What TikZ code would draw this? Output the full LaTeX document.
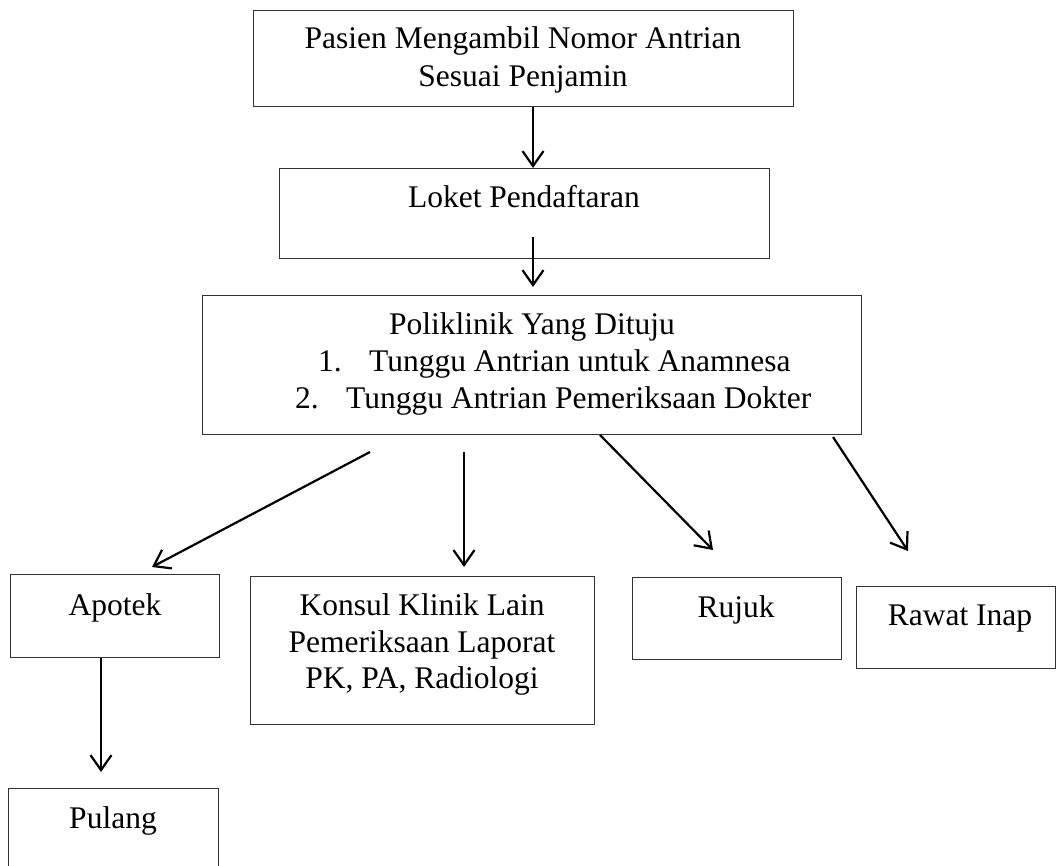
\documentclass[tikz,border=0pt]{standalone}
\usepackage{fontspec}
\setmainfont{Liberation Serif}
\usetikzlibrary{arrows.meta,calc}
\begin{document}
\begin{tikzpicture}[x=1pt,y=-1pt,
  box/.style={draw=black!80,line width=1.3pt,rectangle,inner sep=0pt,anchor=north west},
  txt/.style={inner sep=0pt,anchor=base,font=\fontsize{31.5}{37}\selectfont},
  txl/.style={inner sep=0pt,anchor=base west,font=\fontsize{31.5}{37}\selectfont},
  arr/.style={line width=2.2pt,-{Straight Barb[length=15pt,width=21pt,line width=2.2pt]}}]
\clip (0,0) rectangle (1060,866);
\fill[white] (0,0) rectangle (1060,866);
% boxes
\node[box,minimum width=540pt,minimum height=96pt] (b1) at (253,10) {};
\node[box,minimum width=490pt,minimum height=90pt] (b2) at (279,168) {};
\node[box,minimum width=659pt,minimum height=139pt] (b3) at (202,295) {};
\node[box,minimum width=209pt,minimum height=83pt] (apotek) at (10,574) {};
\node[box,minimum width=344pt,minimum height=148pt] (konsul) at (250,576) {};
\node[box,minimum width=209pt,minimum height=82pt] (rujuk) at (632,577) {};
\node[box,minimum width=199pt,minimum height=82pt] (rawat) at (856,586) {};
\node[box,minimum width=210pt,minimum height=120pt] (pulang) at (8,788) {};
% texts
\node[txt] (t1a) at (523,49) {Pasien Mengambil Nomor Antrian};
\node[txt] (t1b) at (523,87) {Sesuai Penjamin};
\node[txt] (t2) at (524,208) {Loket Pendaftaran};
\node[txt] (t3a) at (532,335) {Poliklinik Yang Dituju};
\node[txl] (n1) at (318,372) {1.};
\node[txl] (t3b) at (369,372) {Tunggu Antrian untuk Anamnesa};
\node[txl] (n2) at (295,408) {2.};
\node[txl] (t3c) at (346,408) {Tunggu Antrian Pemeriksaan Dokter};
\node[txt] (ta) at (115,615) {Apotek};
\node[txt] (tk1) at (422,615) {Konsul Klinik Lain};
\node[txt] (tk2) at (422,652) {Pemeriksaan Laporat};
\node[txt] (tk3) at (422,688) {PK, PA, Radiologi};
\node[txt] (tr) at (736,617) {Rujuk};
\node[txt] (tw) at (960,625) {Rawat Inap};
\node[txt] (tp) at (113,828) {Pulang};
% connector end points
\coordinate (x1) at (533,0);
\coordinate (a2s) at (533,237);
\coordinate (a2e) at (533,287);
\coordinate (a3s) at (370,452);
\coordinate (a3e) at (152,567);
\coordinate (a4s) at (464,452);
\coordinate (a4e) at (464,567);
\coordinate (a5s) at (600,435);
\coordinate (a5e) at (713,550);
\coordinate (a6s) at (833,437);
\coordinate (a6e) at (908,551);
\coordinate (x7) at (101,0);
\coordinate (a7e) at (101,772);
% connectors
\draw[arr] (b1.south -| x1) -- (b2.north -| x1);
\draw[arr] (a2s) -- (a2e);
\draw[arr] (a3s) -- (a3e);
\draw[arr] (a4s) -- (a4e);
\draw[arr] (a5s) -- (a5e);
\draw[arr] (a6s) -- (a6e);
\draw[arr] (apotek.south -| x7) -- (a7e);
\end{tikzpicture}
\end{document}
